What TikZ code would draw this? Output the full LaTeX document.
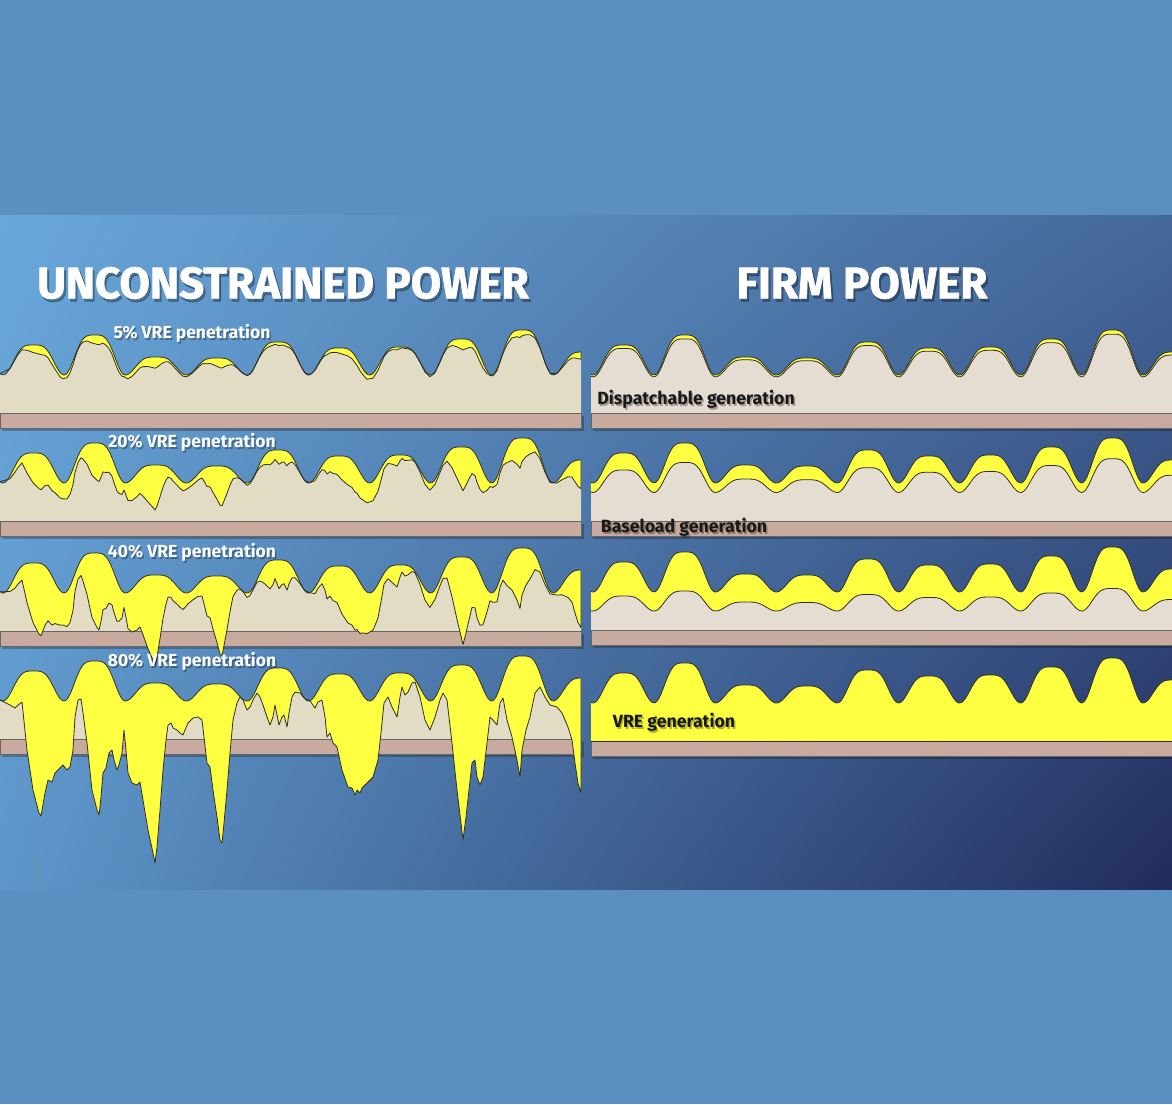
\documentclass[tikz,border=0pt]{standalone}
\usepackage{fontspec}
\setmainfont{Fira Sans}
\newfontfamily\headfont{Fira Sans}[BoldFeatures={FakeBold=1.5}]
\usetikzlibrary{calc,shadings}
\definecolor{outerblue}{HTML}{5B8FC1}
\definecolor{panelTL}{HTML}{69A7DA}
\definecolor{panelTR}{HTML}{45689A}
\definecolor{panelBL}{HTML}{5E96CA}
\definecolor{panelBR}{HTML}{212C5C}
\definecolor{vreyellow}{HTML}{FFFF42}
\definecolor{loadbeige}{HTML}{E2DCC4}
\definecolor{firmbeige}{HTML}{E6DDD2}
\definecolor{barbrown}{HTML}{C8AB9E}
\definecolor{edgegrey}{HTML}{2E2E26}
% net load of the 80% case: x / (y - bar top)
\def\netpoints{0/-39,10/-34,15/-31,18/-34,22/-37,27/11,33/51,39/74,41/77,45/54,48/41,52/43,55/34,60/29,63/26,67/31,70/28,73/11,75/-22,78/-39,81/-40,83/-26,87/4,92/51,97/71,99/76,101/58,103/34,106/29,109/14,112/11,114/21,117/31,119/26,122/14,124/-9,126/11,128/34,132/44,137/46,140/43,143/61,148/91,153/114,155/124,157/108,160/71,163/31,166/1,168/-14,171/-16,173/-11,177/-9,180/-6,183/-4,185/-9,188/-16,193/-21,198/-22,202/-19,204/-2,207/24,210/28,213/51,217/78,220/101,222/104,224/84,227/51,230/14,233/-19,237/-36,240/-42,243/-39,247/-29,250/-32,253/-39,257/-46,260/-42,263/-34,267/-22,270/-14,273/-22,275/-34,277/-24,279/-14,282/-22,284/-24,287/-12,289/-26,292/-42,295/-47,300/-46,305/-42,310/-39,315/-31,318/-37,322/-39,325/-22,327/-2,330/-6,333/4,337/8,342/31,348/48,352/49,355/56,357/51,360/54,362/49,367/44,373/38,378/21,381/-6,384/-36,388/-42,392/-32,397/-22,400/-42,402/-52,405/-44,408/-47,412/-56,415/-57,420/-42,425/-19,430/-9,435/-22,440/-39,443/-46,447/-39,452/4,457/51,461/84,463/101,466/78,469/51,472/24,475/21,477/38,480/46,483/38,487/4,490/-22,493/-19,497/-14,500/-36,503/-41,507/-19,512/-2,517/21,520/38,522/11,526/-9,530/-22,535/-46,540/-52,545/-42,550/-34,557/-32,562/-26,568/-12,572/1,575/24,578/44,581/54}
\tikzset{
	vre/.style={fill=vreyellow},
	curve/.style={draw=edgegrey, line width=0.8pt, line join=round},
	basebar/.style={fill=barbrown, draw=black!60, line width=0.6pt},
	barshadow/.style={fill=black, opacity=0.25},
	title/.style={text=white, font=\headfont\fontsize{44}{44}\selectfont\bfseries},
	titleshadow/.style={text=black, opacity=0.3, font=\headfont\fontsize{44}{44}\selectfont\bfseries},
	vrelabel/.style={text=white, font=\fontsize{17.5}{17.5}\selectfont\bfseries},
	genlabel/.style={text=black!90, font=\fontsize{17.7}{17.7}\selectfont\bfseries},
	labelshadow/.style={text=black, opacity=0.3}
}
% left column: bar top : VRE share of the 80% swings
\def\unconstrainedpanel(#1:#2){
	\fill[loadbeige] (0,#1) -- (0,{#1-hump(0)}) \foreach \x in {2,4,...,580} { -- (\x,{#1-hump(\x)}) } -- (581,{#1-hump(581)}) -- (581,#1) -- cycle;
	\fill[barshadow] (2,#1+3) rectangle (584,#1+18);
	\filldraw[basebar] (0,#1) rectangle (581,#1+15);
	\begin{scope}
		\clip (0,300) \foreach \x/\r in \netpoints { -- (\x,{#1-hump(\x)+#2*max(0,\r+hump(\x))}) } -- (581,300) -- cycle;
		\fill[vre] (0,900) -- (0,{#1-hump(0)}) \foreach \x in {2,4,...,580} { -- (\x,{#1-hump(\x)}) } -- (581,{#1-hump(581)}) -- (581,900) -- cycle;
	\end{scope}
	\draw[curve] (0,{#1-hump(0)}) \foreach \x/\r in \netpoints { -- (\x,{#1-hump(\x)+#2*max(0,\r+hump(\x))}) } -- (581,{#1-hump(581)});
	\draw[curve] (0,{#1-hump(0)}) \foreach \x in {2,4,...,580} { -- (\x,{#1-hump(\x)}) } -- (581,{#1-hump(581)});
}
% right column: bar top : share of the load left to the beige part
\def\firmpanel(#1:#2){
	\fill[vre] (591,#1) -- (591,{#1-hump(1)}) \foreach \x in {3,5,...,581} { -- (\x+590,{#1-hump(\x)}) } -- (1172,{#1-hump(582)}) -- (1172,#1) -- cycle;
	\fill[firmbeige] (591,#1) -- (591,{#1-#2*hump(1)}) \foreach \x in {3,5,...,581} { -- (\x+590,{#1-#2*hump(\x)}) } -- (1172,{#1-#2*hump(582)}) -- (1172,#1) -- cycle;
	\fill[barshadow] (593,#1+3) rectangle (1172,#1+18);
	\filldraw[basebar] (591,#1) rectangle (1172,#1+15);
	\draw[curve] (591,{#1-#2*hump(1)}) \foreach \x in {3,5,...,581} { -- (\x+590,{#1-#2*hump(\x)}) } -- (1172,{#1-#2*hump(582)});
	\draw[curve] (591,{#1-hump(1)}) \foreach \x in {3,5,...,581} { -- (\x+590,{#1-hump(\x)}) } -- (1172,{#1-hump(582)});
}

\begin{document}
\begin{tikzpicture}[x=1pt, y=-1pt,
	declare function={
		phase(\x)=(\x+58.1)/61.1;
		cosq(\t)=cos(180*\t)*cos(180*\t);
		lobe(\t)=1-cosq(\t)*cosq(\t);
		hump(\x)=38+{30,30,40,18,17,33,27,28,36,45,23,23}[int(phase(\x))]*lobe(phase(\x)-int(phase(\x)));
	}]
			%%%%% START %%%%%
			
			\useasboundingbox (0,0) rectangle (1172,1104);
			\fill[outerblue] (0,0) rectangle (1172,1104);
			\shade[upper left=panelTL, upper right=panelTR, lower left=panelBL, lower right=panelBR] (0,215) rectangle (1172,889);
			
			\unconstrainedpanel(413:0.0625)
			\unconstrainedpanel(521:0.25)
			\unconstrainedpanel(631:0.5)
			\unconstrainedpanel(739:1)
			
			\firmpanel(413:0.95)
			\firmpanel(521:0.75)
			\firmpanel(630:0.5)
			\firmpanel(741:0)
			
			\draw[line width=0.6pt, color=black!45] (37,855) -- (37,881);
			
			\node[titleshadow] (unconstrained shadow) at (285,286) {UNCONSTRAINED POWER};
			\node[title] (unconstrained) at (283,283) {UNCONSTRAINED POWER};
			\node[titleshadow] (firm shadow) at (864,286) {FIRM POWER};
			\node[title] (firm) at (862,283) {FIRM POWER};
			
			\foreach \y/\share in {333/5, 442/20, 552/40, 661/80} {
				\node[vrelabel, labelshadow] (vre\share\space shadow) at (193.5,\y+2) {\share\% VRE penetration};
				\node[vrelabel] (vre\share) at (192,\y) {\share\% VRE penetration};
			}
			
			\node[genlabel, labelshadow] (dispatchable shadow) at (697.5,401) {Dispatchable generation};
			\node[genlabel] (dispatchable) at (696,399) {Dispatchable generation};
			\node[genlabel, labelshadow] (baseload shadow) at (685.5,529) {Baseload generation};
			\node[genlabel] (baseload) at (684,527) {Baseload generation};
			\node[genlabel, labelshadow] (vregen shadow) at (675.5,724) {VRE generation};
			\node[genlabel] (vregen) at (674,722) {VRE generation};
			
			%%%%% END %%%%%
\end{tikzpicture}
\end{document}
